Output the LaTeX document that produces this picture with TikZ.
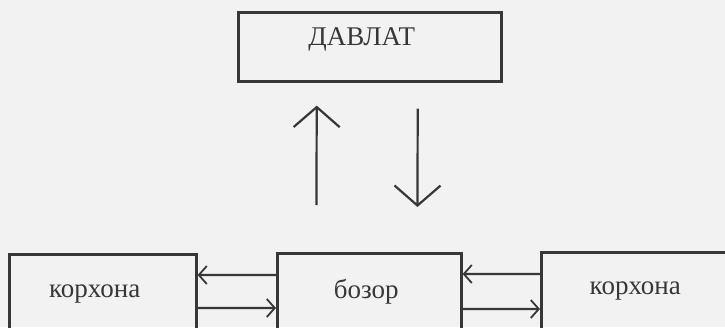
\documentclass[tikz,border=0pt]{standalone}
\usepackage{fontspec}
\setmainfont{Liberation Serif}
\usetikzlibrary{arrows.meta}
\definecolor{paper}{RGB}{242,242,242}
\definecolor{ink}{RGB}{55,55,55}
\tikzset{
    unitbox/.style={draw=ink, line width=2.6bp, inner sep=0pt, anchor=north west,
        text=ink, font=\fontsize{27bp}{32bp}\selectfont},
    flow/.style={draw=ink, line width=2.2bp, -{Straight Barb[length=20bp, width=46bp, line width=2.2bp]}},
    smallflow/.style={draw=ink, line width=2.2bp, -{Straight Barb[length=8bp, width=18bp, line width=1.8bp]}}
}
\begin{document}
\begin{tikzpicture}[x=1bp, y=-1bp]
    \useasboundingbox (0,0) rectangle (725,327);
    \clip (0,0) rectangle (725,327);
    \fill[paper] (0,0) rectangle (725,327);
    %
    \node[unitbox, minimum width=263bp, text height=33bp, text depth=36bp] (davlat) at (237,11) {ДАВЛАТ\rule{16bp}{0pt}};
    \node[unitbox, minimum width=187bp, text height=43bp, text depth=60bp] (korxonaA) at (8,253) {корхона\rule{16bp}{0pt}};
    \node[unitbox, minimum width=184bp, text height=45bp, text depth=60bp] (bozor) at (276,252) {бозор\rule{6bp}{0pt}};
    \node[unitbox, minimum width=188bp, text height=42bp, text depth=60bp] (korxonaB) at (540,251) {корхона};
    %
    \draw[flow, shorten <=47bp, shorten >=23bp] ([xshift=-53bp]bozor.north) -- ([xshift=-53bp]davlat.south);
    \draw[flow, shorten <=26bp, shorten >=45bp] ([xshift=48bp]davlat.south) -- ([xshift=48bp]bozor.north);
    %
    \draw[smallflow] ([yshift=-23bp]bozor.north west) -- ([yshift=-22bp]korxonaA.north east);
    \draw[smallflow] ([yshift=-55bp]korxonaA.north east) -- ([yshift=-56bp]bozor.north west);
    \draw[smallflow] ([yshift=-23bp]korxonaB.north west) -- ([yshift=-22bp]bozor.north east);
    \draw[smallflow] ([yshift=-57bp]bozor.north east) -- ([yshift=-58bp]korxonaB.north west);
\end{tikzpicture}
\end{document}
